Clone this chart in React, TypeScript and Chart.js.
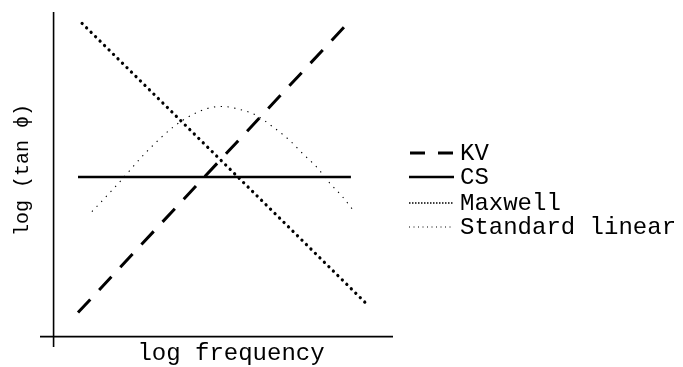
import React, { useEffect, useRef } from "react";
import { Chart, registerables } from "chart.js";

Chart.register(...registerables);

// log frequency (arbitrary units) / log(tan phi) (arbitrary units)
const kvX = [0.72, 8.76];
const kvY = [0.74, 9.76];

const csX = [0.72, 8.76];
const csY = [4.92, 4.92];

const maxwellX = [0.84, 9.26];
const maxwellY = [9.65, 0.97];

const stdX = [1.13, 1.91, 2.70, 3.54, 4.08, 4.57, 4.98, 5.51, 5.95, 6.45, 6.94, 7.33, 7.78, 8.12, 8.51, 8.86];
const stdY = [3.85, 4.72, 5.65, 6.47, 6.83, 7.04, 7.09, 6.99, 6.83, 6.47, 6.06, 5.65, 5.19, 4.75, 4.31, 3.85];

const seriesNames = ["KV", "CS", "Maxwell", "Standard linear"];
const xTitle = "log frequency";
const yTitle = "log (tan \u03d5)";

const toPoints = (xs: number[], ys: number[]) => xs.map((x, i) => ({ x, y: ys[i] }));

const FONT = "'Liberation Mono', 'Courier New', monospace";
const INK = "#000";

const lineStyles = [
  { width: 3, dash: [18, 13], cap: "butt" as CanvasLineCap, legendDash: [15, 13] },
  { width: 2.5, dash: [] as number[], cap: "butt" as CanvasLineCap, legendDash: [] as number[] },
  { width: 3.2, dash: [0.1, 6.2], cap: "round" as CanvasLineCap, legendDash: [1.5, 1.5] },
  { width: 1.1, dash: [1.3, 5.5], cap: "butt" as CanvasLineCap, legendDash: [1, 3.5] },
];

const decorPlugin = {
  id: "decor",
  afterDraw(chart: any) {
    const { ctx, scales } = chart;
    const xs = scales.x;
    const ys = scales.y;
    const x0 = xs.getPixelForValue(0);
    const y0 = ys.getPixelForValue(0);
    ctx.save();
    ctx.strokeStyle = INK;
    ctx.lineWidth = 1.6;
    ctx.setLineDash([]);
    // x axis
    ctx.beginPath();
    ctx.moveTo(xs.left, y0);
    ctx.lineTo(xs.right, y0);
    ctx.stroke();
    // y axis
    ctx.beginPath();
    ctx.moveTo(x0, ys.top);
    ctx.lineTo(x0, ys.bottom);
    ctx.stroke();

    // axis titles
    ctx.fillStyle = INK;
    ctx.font = `24px ${FONT}`;
    ctx.textAlign = "center";
    ctx.textBaseline = "alphabetic";
    ctx.fillText(xTitle, 231, 360);
    ctx.save();
    ctx.translate(28, 170);
    ctx.rotate(-Math.PI / 2);
    ctx.font = `20px ${FONT}`;
    ctx.fillText(yTitle, 0, 0);
    ctx.restore();

    // legend
    const rowsY = [153, 177, 203, 227];
    ctx.font = `24px ${FONT}`;
    ctx.textAlign = "left";
    ctx.textBaseline = "middle";
    seriesNames.forEach((name, i) => {
      const st = lineStyles[i];
      ctx.beginPath();
      ctx.lineWidth = i === 2 ? 1.6 : i === 3 ? 1 : st.width;
      ctx.lineCap = "butt";
      ctx.setLineDash(st.legendDash);
      ctx.moveTo(i === 0 ? 410 : 409, rowsY[i]);
      ctx.lineTo(454, rowsY[i]);
      ctx.stroke();
      ctx.setLineDash([]);
      ctx.fillText(name, 460, rowsY[i] + 1);
    });
    ctx.restore();
  },
};

export default function App() {
  const ref = useRef<HTMLCanvasElement | null>(null);

  useEffect(() => {
    if (!ref.current) return;
    const allSeries = [
      toPoints(kvX, kvY),
      toPoints(csX, csY),
      toPoints(maxwellX, maxwellY),
      toPoints(stdX, stdY),
    ];
    const chart = new Chart(ref.current, {
      type: "line",
      data: {
        datasets: allSeries.map((pts, i) => ({
          label: seriesNames[i],
          data: pts,
          borderColor: INK,
          backgroundColor: INK,
          borderWidth: lineStyles[i].width,
          borderDash: lineStyles[i].dash,
          borderCapStyle: lineStyles[i].cap,
          pointRadius: 0,
          fill: false,
          tension: i === 3 ? 0.35 : 0,
          cubicInterpolationMode: i === 3 ? "monotone" : "default",
        })),
      },
      options: {
        animation: false,
        responsive: false,
        maintainAspectRatio: false,
        layout: { padding: { left: 40, right: 290, top: 12, bottom: 20 } },
        plugins: { legend: { display: false }, tooltip: { enabled: false } },
        scales: {
          x: { type: "linear", min: -0.4, max: 10, display: false },
          y: { type: "linear", min: -0.32, max: 10, display: false },
        },
      },
      plugins: [decorPlugin],
    } as any);
    return () => chart.destroy();
  }, []);

  return (
    <div style={{ position: "fixed", left: 0, top: 0, width: 683, height: 367, background: "#fff" }}>
      <canvas ref={ref} width={683} height={367} style={{ display: "block", width: 683, height: 367 }} />
    </div>
  );
}
